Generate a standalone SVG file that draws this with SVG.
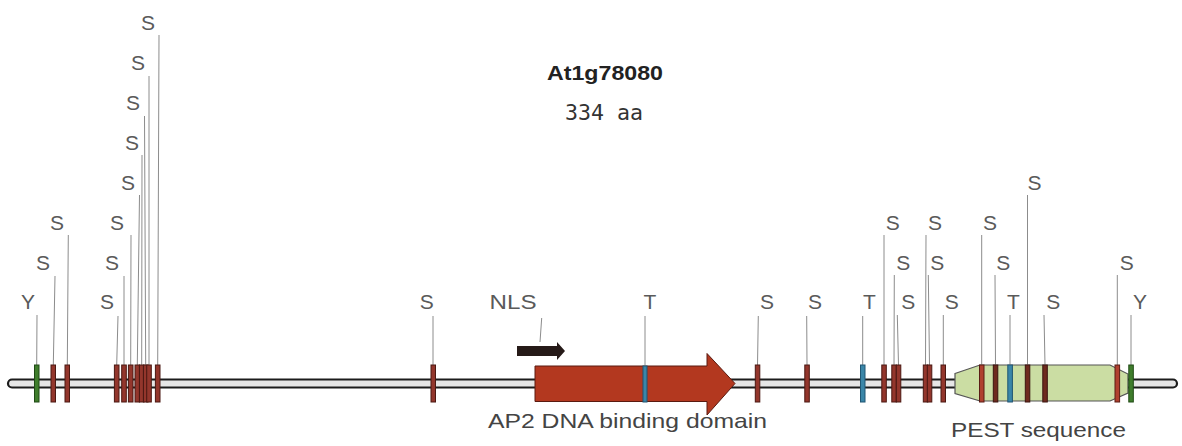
<svg xmlns="http://www.w3.org/2000/svg" width="1182" height="446" viewBox="0 0 1182 446">
<style>
.lbl{font-family:"Liberation Sans",Arial,sans-serif;font-size:21px;fill:#5a5a5a;text-anchor:middle}
.ln{stroke:#8c8c8c;stroke-width:1;fill:none}
.r{fill:#93362c;stroke:#4a1812;stroke-width:1}
.rl{fill:#b0402f;stroke:#5a1c14;stroke-width:1}
.rd{fill:#6e2a1e;stroke:#3a140e;stroke-width:1}
.g{fill:#3f7d2c;stroke:#1f4a15;stroke-width:1}
.b{fill:#3a86a8;stroke:#1f5572;stroke-width:1}
</style>
<rect width="1182" height="446" fill="#ffffff"/>
<g id="title">
<text x="605" y="80" font-family="Liberation Sans, Arial, sans-serif" font-weight="bold" font-size="21" fill="#222" text-anchor="middle" textLength="116" lengthAdjust="spacingAndGlyphs">At1g78080</text>
<text x="604" y="120" font-family="DejaVu Sans Mono, monospace" font-size="21" fill="#333" text-anchor="middle" textLength="78" lengthAdjust="spacingAndGlyphs">334 aa</text>
</g>
<g id="backbone">
<rect x="8" y="379.5" width="1169" height="8" rx="4" fill="#e6e6e6" stroke="#1c1c1c" stroke-width="2.2"/>
</g>
<g id="pest">
<polygon points="955,373.5 980,365 1110,365 1128,374 1128,393 1110,401 980,401 955,393.5" fill="#cbdda3" stroke="#555" stroke-width="1.2"/>
<text x="1038.5" y="437" font-family="Liberation Sans, Arial, sans-serif" font-size="21" fill="#444" text-anchor="middle" textLength="175" lengthAdjust="spacingAndGlyphs">PEST sequence</text>
</g>
<g id="ap2">
<path d="M535,366 L707,366 L707,353.5 L735,383.5 L707,415 L707,401.5 L535,401.5 Z" fill="#b3381f" stroke="#5a1a10" stroke-width="1"/>
<text x="627.5" y="428" font-family="Liberation Sans, Arial, sans-serif" font-size="21" fill="#444" text-anchor="middle" textLength="279" lengthAdjust="spacingAndGlyphs">AP2 DNA binding domain</text>
</g>
<g id="nls">
<path d="M517,346 L557,346 L557,342 L565,351 L557,360 L557,356 L517,356 Z" fill="#261a18"/>
<text class="lbl" x="513" y="309" textLength="47" lengthAdjust="spacingAndGlyphs">NLS</text>
</g>
<g id="connectors">
<line class="ln" x1="37" y1="315" x2="36.7" y2="365"/>
<line class="ln" x1="55" y1="276" x2="53.3" y2="365"/>
<line class="ln" x1="68.3" y1="235" x2="67.3" y2="365"/>
<line class="ln" x1="118" y1="316" x2="116.7" y2="365"/>
<line class="ln" x1="124" y1="276" x2="124" y2="365"/>
<line class="ln" x1="131" y1="235" x2="130.7" y2="365"/>
<line class="ln" x1="139.5" y1="195" x2="137.3" y2="365"/>
<line class="ln" x1="142" y1="155" x2="141.7" y2="365"/>
<line class="ln" x1="144.5" y1="116" x2="145.7" y2="365"/>
<line class="ln" x1="149" y1="76" x2="149" y2="365"/>
<line class="ln" x1="159" y1="35" x2="157.7" y2="365"/>
<line class="ln" x1="433" y1="316" x2="433" y2="365"/>
<line class="ln" x1="541.7" y1="318" x2="540" y2="342"/>
<line class="ln" x1="645" y1="316" x2="645" y2="366"/>
<line class="ln" x1="758.3" y1="316" x2="757.5" y2="365"/>
<line class="ln" x1="806.7" y1="316" x2="807" y2="365"/>
<line class="ln" x1="862.7" y1="316" x2="862.7" y2="365"/>
<line class="ln" x1="884" y1="235" x2="884" y2="365"/>
<line class="ln" x1="894.3" y1="275" x2="894" y2="365"/>
<line class="ln" x1="897.3" y1="315" x2="898.5" y2="365"/>
<line class="ln" x1="926" y1="235" x2="925.5" y2="365"/>
<line class="ln" x1="928.3" y1="275" x2="929.5" y2="365"/>
<line class="ln" x1="943.3" y1="315" x2="943.3" y2="365"/>
<line class="ln" x1="981.7" y1="235" x2="981.7" y2="365"/>
<line class="ln" x1="995" y1="275" x2="995.5" y2="365"/>
<line class="ln" x1="1010" y1="315" x2="1010" y2="365"/>
<line class="ln" x1="1027.5" y1="195" x2="1027.5" y2="365"/>
<line class="ln" x1="1044" y1="315" x2="1045" y2="365"/>
<line class="ln" x1="1117.3" y1="275" x2="1117.3" y2="365"/>
<line class="ln" x1="1131" y1="315" x2="1131" y2="365"/>
</g>
<g id="sites-left">
<rect class="g" x="34.5" y="365" width="4.5" height="37"/>
<rect class="r" x="51" y="365" width="4.5" height="37"/>
<rect class="r" x="65" y="365" width="4.5" height="37"/>
<rect class="r" x="114.4" y="365" width="4.6" height="37"/>
<rect class="r" x="121.7" y="365" width="4.6" height="37"/>
<rect class="r" x="128.4" y="365" width="4.6" height="37"/>
<rect class="r" x="135" y="365" width="4.6" height="37"/>
<rect class="r" x="139.4" y="365" width="4.6" height="37"/>
<rect class="r" x="143.4" y="365" width="4.6" height="37"/>
<rect class="r" x="146.7" y="365" width="4.6" height="37"/>
<rect class="r" x="155.4" y="365" width="4.6" height="37"/>
<text class="lbl" x="28" y="309">Y</text>
<text class="lbl" x="43" y="269.5">S</text>
<text class="lbl" x="57" y="229.5">S</text>
<text class="lbl" x="107" y="309">S</text>
<text class="lbl" x="112" y="269.5">S</text>
<text class="lbl" x="117" y="229.5">S</text>
<text class="lbl" x="128" y="189.5">S</text>
<text class="lbl" x="132" y="149.5">S</text>
<text class="lbl" x="133" y="109.5">S</text>
<text class="lbl" x="138" y="69.5">S</text>
<text class="lbl" x="148" y="29.5">S</text>
</g>
<g id="sites-middle">
<rect class="r" x="431" y="365" width="4.5" height="37"/>
<rect class="b" x="643" y="366" width="4" height="36"/>
<rect class="r" x="755.3" y="365" width="4.5" height="37"/>
<rect class="r" x="804.8" y="365" width="4.5" height="37"/>
<text class="lbl" x="426.7" y="309">S</text>
<text class="lbl" x="650" y="309">T</text>
<text class="lbl" x="767" y="309">S</text>
<text class="lbl" x="815" y="309">S</text>
</g>
<g id="sites-right">
<rect class="b" x="860.5" y="365" width="4.5" height="37"/>
<rect class="r" x="881.8" y="365" width="4.5" height="37"/>
<rect class="r" x="891.8" y="365" width="4.5" height="37"/>
<rect class="r" x="896.3" y="365" width="4.5" height="37"/>
<rect class="r" x="923.3" y="365" width="4.5" height="37"/>
<rect class="r" x="927.3" y="365" width="4.5" height="37"/>
<rect class="r" x="941" y="365" width="4.5" height="37"/>
<rect class="rl" x="979.5" y="365" width="4.5" height="37"/>
<rect class="rd" x="993.3" y="365" width="4.5" height="37"/>
<rect class="b" x="1007.8" y="365" width="4.6" height="37"/>
<rect class="rd" x="1025.3" y="365" width="4.5" height="37"/>
<rect class="rd" x="1042.8" y="365" width="4.5" height="37"/>
<rect class="rl" x="1115" y="365" width="4.6" height="37"/>
<rect class="g" x="1128.8" y="365" width="4.5" height="37"/>
<text class="lbl" x="869.3" y="309">T</text>
<text class="lbl" x="892.7" y="229.5">S</text>
<text class="lbl" x="903.3" y="269.5">S</text>
<text class="lbl" x="908.3" y="309">S</text>
<text class="lbl" x="935" y="229.5">S</text>
<text class="lbl" x="937.3" y="269.5">S</text>
<text class="lbl" x="951.7" y="309">S</text>
<text class="lbl" x="990" y="229.5">S</text>
<text class="lbl" x="1003.3" y="269.5">S</text>
<text class="lbl" x="1013.3" y="309">T</text>
<text class="lbl" x="1034.5" y="189.5">S</text>
<text class="lbl" x="1053.3" y="309">S</text>
<text class="lbl" x="1126.7" y="269.5">S</text>
<text class="lbl" x="1140" y="309">Y</text>
</g>
</svg>
